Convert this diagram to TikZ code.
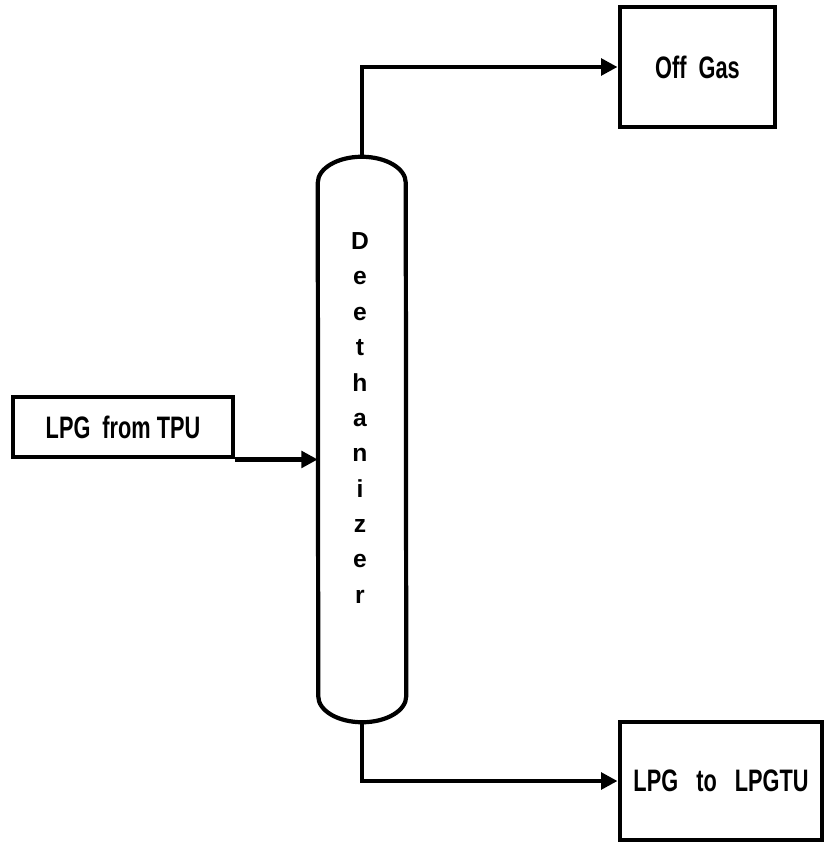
\documentclass[tikz,border=0pt]{standalone}
\usepackage{fontspec}
\setmainfont{Liberation Sans}[FakeStretch=0.7]
\newfontfamily\colfont{Liberation Sans}
\usepackage{tikz}
\usetikzlibrary{arrows.meta}

\begin{document}
\begin{tikzpicture}[x=0.03cm,y=0.03cm,
box/.style={draw=black,line width=4.2pt,inner sep=0pt,align=center,font=\fontsize{26.5}{30}\selectfont\bfseries},
vessel/.style={draw=black,line width=3.6pt},
pipe/.style={-{Triangle[length=14pt,width=14pt]},line width=3.8pt}]
\useasboundingbox (0,0) rectangle (824,-842);
\node[box,minimum width=4.65cm,minimum height=3.6cm] (offgas) at (697.5,-67) {Off~~Gas};
\node[box,minimum width=6.6cm,minimum height=1.8cm] (feed) at (123,-427) {LPG~~from TPU};
\node[box,minimum width=6.06cm,minimum height=3.54cm] (product) at (721,-781) {LPG~~~to~~~LPGTU};
\node[minimum width=2.64cm,minimum height=16.95cm,inner sep=0pt] (col) at (362,-439.5) {};
\node[align=center,inner sep=0pt,font=\colfont\fontsize{21}{30.2}\selectfont\bfseries] (colname) at (360,-418) {D\\e\\e\\t\\h\\a\\n\\i\\z\\e\\r};
% deethanizer column
\draw[vessel] ([yshift=-0.78cm]col.north west) arc[start angle=180,end angle=0,x radius=1.32cm,y radius=0.78cm]
  -- ([yshift=0.78cm]col.south east) arc[start angle=0,end angle=-180,x radius=1.32cm,y radius=0.78cm] -- cycle;
\draw[pipe](col.north)|-(offgas.west);\draw[pipe](feed.south east)--(feed.south east-|col.west);\draw[pipe](col.south)|-(product.west);
\end{tikzpicture}
\end{document}
